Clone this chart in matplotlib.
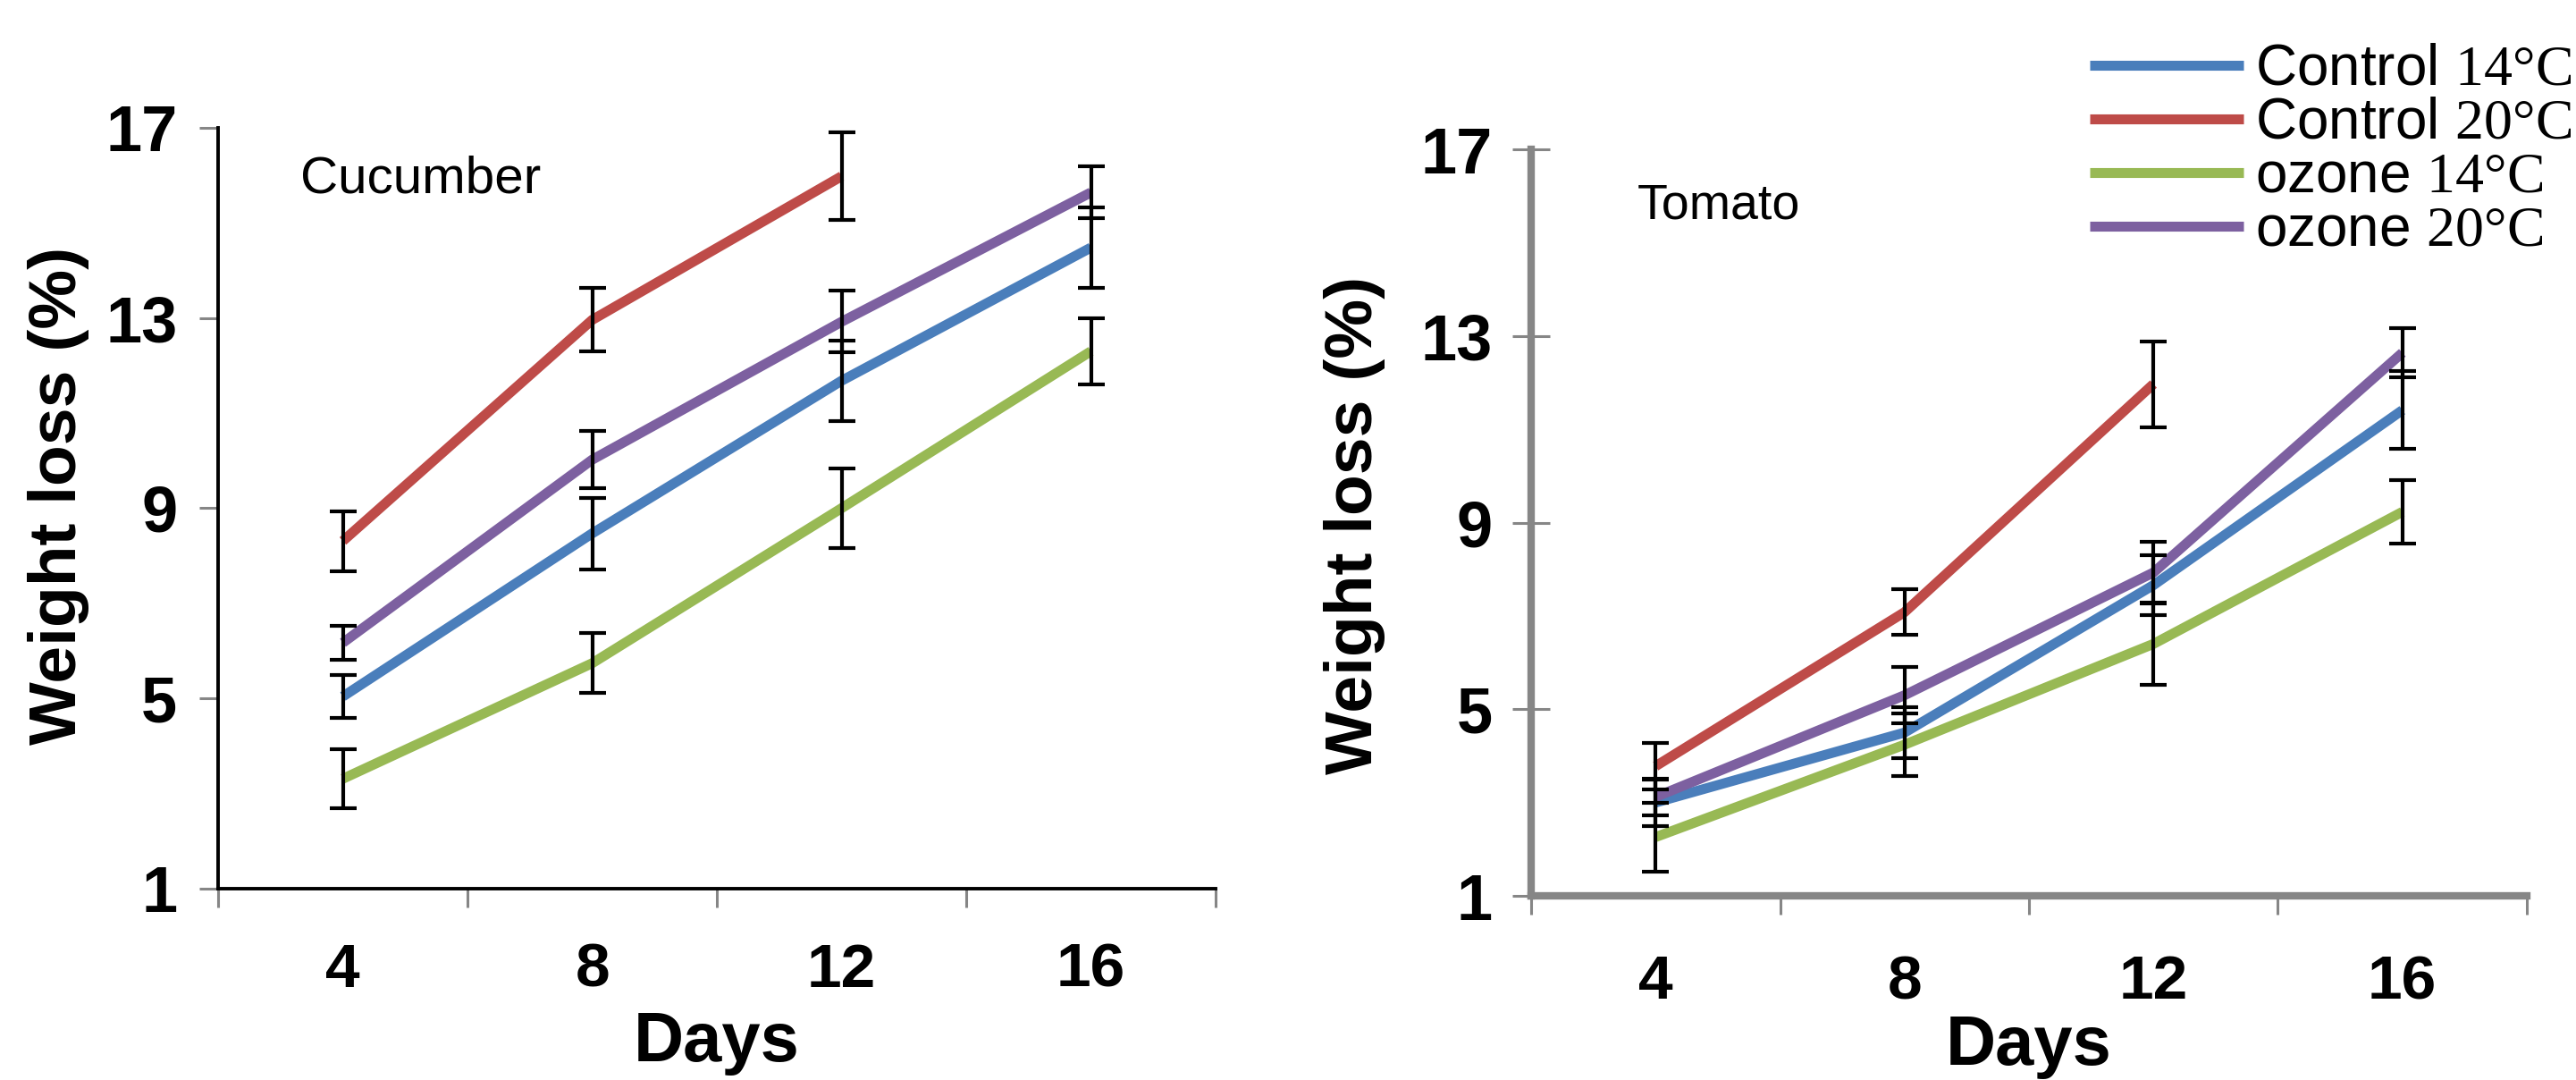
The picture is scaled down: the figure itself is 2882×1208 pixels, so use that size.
import matplotlib
matplotlib.use("Agg")
import matplotlib.pyplot as plt
from matplotlib.font_manager import FontProperties

plt.rcParams['mathtext.fontset'] = 'custom'
plt.rcParams['mathtext.rm'] = 'Liberation Serif'

# data
days = [4, 8, 12, 16]
day_labels = ["4", "8", "12", "16"]
series_names = ["Control $\\mathrm{14°C}$", "Control $\\mathrm{20°C}$",
                "ozone $\\mathrm{14°C}$", "ozone $\\mathrm{20°C}$"]
colors = ["#4A7EBB", "#BE4B48", "#98B954", "#7D60A0"]

cuc_ctrl14 = [5.04, 8.47, 11.68, 14.48]
cuc_ctrl20 = [8.31, 12.96, 15.98]
cuc_oz14 = [3.31, 5.74, 9.0, 12.3]
cuc_oz20 = [6.17, 10.02, 12.92, 15.64]
cuc_ctrl14_err = [0.45, 0.75, 0.85, 0.85]
cuc_ctrl20_err = [0.63, 0.67, 0.92]
cuc_oz14_err = [0.62, 0.63, 0.84, 0.7]
cuc_oz20_err = [0.35, 0.6, 0.65, 0.55]

tom_ctrl14 = [3.0, 4.5, 7.66, 11.41]
tom_ctrl20 = [3.78, 7.08, 11.97]
tom_oz14 = [2.26, 4.24, 6.4, 9.23]
tom_oz20 = [3.12, 5.3, 7.93, 12.64]
tom_ctrl14_err = [0.5, 0.55, 0.65, 0.83]
tom_ctrl20_err = [0.49, 0.49, 0.92]
tom_oz14_err = [0.74, 0.67, 0.87, 0.68]
tom_oz20_err = [0.4, 0.6, 0.65, 0.52]

yticks = [1, 5, 9, 13, 17]
bounds = [2, 6, 10, 14, 18]

GREY = "#868686"
bold = FontProperties(family=["Liberation Sans", "DejaVu Sans"], weight="bold", size=52)
xtick_font = FontProperties(family=["Liberation Sans", "DejaVu Sans"], weight="bold", size=50)
xlab = FontProperties(family=["Liberation Sans", "DejaVu Sans"], weight="bold", size=56)
ylab = FontProperties(family=["Liberation Sans", "DejaVu Sans"], weight="bold", size=54)

fig = plt.figure(figsize=(28.82, 12.08), dpi=100)
ax1 = fig.add_axes([0.0847, 0.1772, 0.3872, 0.7045])
ax2 = fig.add_axes([0.5944, 0.1705, 0.3865, 0.6912])


def draw(ax, vals, errs):
    handles = []
    for v, e, c in zip(vals, errs, colors):
        n = len(v)
        ln, = ax.plot(days[:n], v, color=c, lw=8, zorder=2,
                      solid_capstyle="butt")
        handles.append(ln)
        ax.errorbar(days[:n], v, yerr=e, fmt="none", ecolor="black",
                    elinewidth=3, capsize=11, capthick=3, zorder=3)
    return handles


handles = draw(ax1, [cuc_ctrl14, cuc_ctrl20, cuc_oz14, cuc_oz20],
               [cuc_ctrl14_err, cuc_ctrl20_err, cuc_oz14_err, cuc_oz20_err])
draw(ax2, [tom_ctrl14, tom_ctrl20, tom_oz14, tom_oz20],
     [tom_ctrl14_err, tom_ctrl20_err, tom_oz14_err, tom_oz20_err])

for ax in (ax1, ax2):
    ax.set_xlim(2, 18)
    ax.set_ylim(1, 17)
    ax.spines["top"].set_visible(False)
    ax.spines["right"].set_visible(False)
    ax.set_yticks(yticks)
    ax.set_yticklabels([str(t) for t in yticks], fontproperties=bold)
    ax.set_xticks(bounds)
    ax.set_xticklabels([])
    ax.set_xticks(days, minor=True)
    ax.set_xticklabels(day_labels, minor=True, fontproperties=xtick_font)
    ax.tick_params(axis="x", which="major", direction="out", length=15,
                   width=2.2, color=GREY)
    ax.set_ylabel("Weight loss (%)", fontproperties=ylab, va="center")

# left panel: black axes, grey ticks
for s in ("left", "bottom"):
    ax1.spines[s].set_color("black")
    ax1.spines[s].set_linewidth(2.8)
ax1.tick_params(axis="y", direction="out", length=15, width=2.2,
                color=GREY, pad=18)
ax1.tick_params(axis="x", which="minor", length=0, pad=43)
ax1.set_xlabel("Days", fontproperties=xlab, labelpad=9)
ax1.yaxis.set_label_coords(-0.160, 0.517)
ax1.text(0.082, 0.915, "Cucumber", transform=ax1.transAxes,
         fontsize=42, family="Liberation Sans", va="baseline")

# right panel: thick grey axes
for s in ("left", "bottom"):
    ax2.spines[s].set_color(GREY)
    ax2.spines[s].set_linewidth(6)
ax2.tick_params(axis="y", direction="inout", length=30, width=2.2,
                color=GREY, pad=16)
ax2.tick_params(axis="x", which="minor", length=0, pad=47)
ax2.set_xlabel("Days", fontproperties=xlab, labelpad=2)
ax2.yaxis.set_label_coords(-0.177, 0.496)
ax2.text(0.107, 0.907, "Tomato", transform=ax2.transAxes,
         fontsize=40, family="Liberation Sans", va="baseline")

fig.legend(handles, series_names, loc="upper right", bbox_to_anchor=(1.015, 1.0),
           frameon=False, prop=FontProperties(family="Liberation Sans", size=46),
           handlelength=2.7, handletextpad=0.2, labelspacing=0.0,
           borderaxespad=0, borderpad=0.75)

fig.savefig("out.png", dpi=100)
